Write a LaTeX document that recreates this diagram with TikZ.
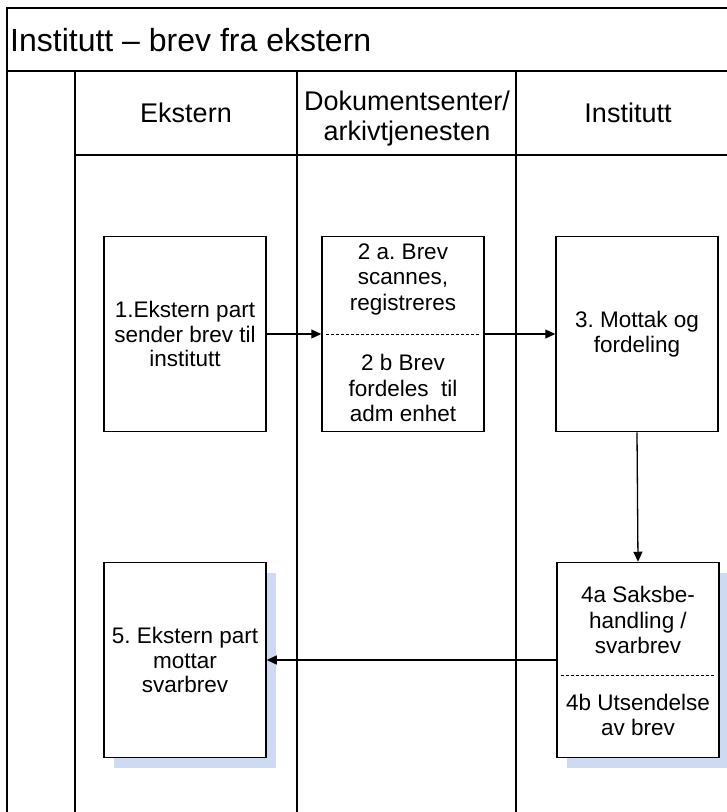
\documentclass[tikz,border=0pt]{standalone}
\usepackage{fontspec}
\setmainfont{Liberation Sans}
\usetikzlibrary{arrows.meta,shadows}
\definecolor{shadowblue}{RGB}{205,218,242}
\frenchspacing

\tikzset{
  lane/.style={line width=1.4pt},
  head/.style={align=center, font=\fontsize{27}{30}\selectfont},
  box/.style={draw, line width=1.5pt, fill=white, align=center,
    minimum width=162pt, minimum height=195pt, inner sep=0pt,
    font=\fontsize{22.5}{24.5}\selectfont},
  shadowbox/.style={box, drop shadow={shadow xshift=10pt, shadow yshift=-10pt,
    fill=shadowblue, opacity=1}},
  boxtext/.style={align=center, inner sep=0pt, font=\fontsize{22.5}{25.5}\selectfont},
  divider/.style={line width=0.9pt, dash pattern=on 3pt off 2pt},
  flow/.style={line width=1.3pt, -{Triangle[length=10pt,width=9pt]}}
}

\begin{document}
\begin{tikzpicture}[x=1pt, y=-1pt]
    \useasboundingbox (0,0) rectangle (727,812);
    \clip (0,0) rectangle (727,812);

    % Pool and lanes
    \draw[lane, line width=1.8pt] (7,8) rectangle (745,830);
    \draw[line width=2.6pt] (7,71) -- (745,71);
    \draw[lane] (75,155) -- (745,155);
    \foreach \x in {75,297,516}
        \draw[lane] (\x,71) -- (\x,830);

    % Titles
    \node[anchor=west, inner sep=0pt, font=\fontsize{32}{35}\selectfont] (pool) at (10,40) {Institutt -- brev fra ekstern};
    \node[head] (ekstern) at (186,113) {Ekstern};
    \node[head] (arkiv) at (407,119) {Dokumentsenter/\\arkivtjenesten};
    \node[head] (institutt) at (628,113) {Institutt};

    % Steps
    \node[box] (send) at (185,334) {1.Ekstern part\\sender brev til\\institutt};
    \node[box] (scan) at (403,334) {};
    \node[boxtext] (scanA) at (403,279) {2 a. Brev\\scannes,\\registreres};
    \node[boxtext] (scanB) at (403,388) {2 b Brev\\fordeles~ til\\adm enhet};
    \draw[divider] ([xshift=5]scan.west) -- ([xshift=-5]scan.east);
    \node[box] (mottak) at (637,334) {3. Mottak og\\fordeling};
    \node[shadowbox] (sak) at (638,660) {};
    \node[boxtext] (sakA) at (638,620) {4a Saksbe-\\handling /\\svarbrev};
    \node[boxtext] (sakB) at (638,715) {4b Utsendelse\\av brev};
    \draw[divider] ([shift={(5,15)}]sak.west) -- ([shift={(-5,15)}]sak.east);
    \node[shadowbox] (svar) at (185,660) {5. Ekstern part\\mottar\\svarbrev};

    % Flow
    \draw[flow] (send.east) -- (scan.west);
    \draw[flow] (scan.east) -- (mottak.west);
    \draw[flow] (mottak.south) -- (sak.north);
    \draw[flow] (sak.west) -- (svar.east);
\end{tikzpicture}
\end{document}
